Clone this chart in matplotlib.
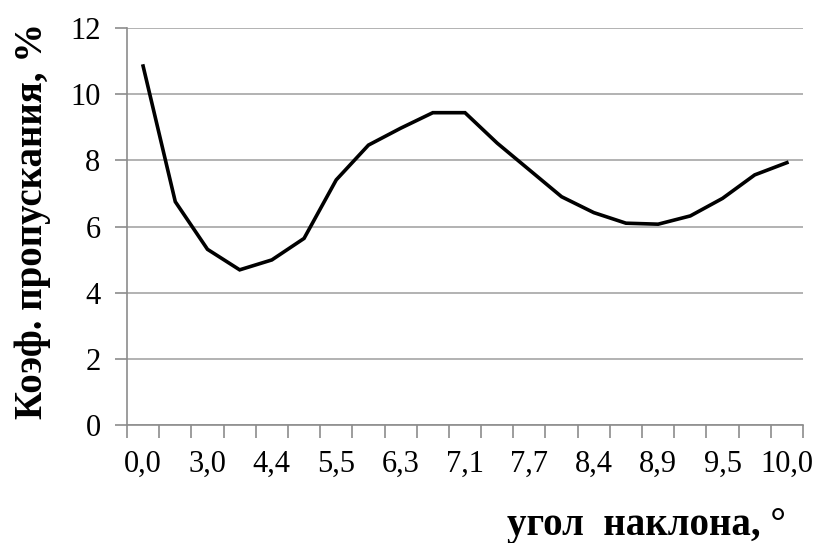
import matplotlib
matplotlib.use("Agg")
import matplotlib.pyplot as plt
import numpy as np

# Transmission coefficient vs. tilt angle (categorical axis, 21 measurements)
angle_labels = ["0,0", "3,0", "4,4", "5,5", "6,3", "7,1", "7,7", "8,4", "8,9", "9,5", "10,0"]
transmission = [10.85, 6.75, 5.31, 4.69, 4.99, 5.64, 7.41, 8.46, 8.97, 9.44,
                9.44, 8.52, 7.71, 6.90, 6.42, 6.10, 6.07, 6.32, 6.85, 7.56, 7.93]
y_ticks = [0, 2, 4, 6, 8, 10, 12]

plt.rcParams["font.family"] = ["Liberation Serif", "DejaVu Serif"]

fig = plt.figure(figsize=(8.18, 5.43), dpi=100)
W, H = 818, 543
left, right, top, bottom = 127, 803, 28, 425
ax = fig.add_axes([left / W, 1 - bottom / H, (right - left) / W, (bottom - top) / H])

x = np.arange(len(transmission))
ax.plot(x, transmission, color="black", linewidth=2.6, solid_joinstyle="miter")

ax.set_xlim(-0.5, len(transmission) - 0.5)
ax.set_ylim(0, 12)

axis_gray = "#8c8c8c"
grid_gray = "#a6a6a6"

ax.set_yticks(y_ticks)
ax.set_yticklabels([str(v) for v in y_ticks])
ax.yaxis.grid(True, color=grid_gray, linewidth=1.2)
ax.set_axisbelow(True)

# category boundaries carry the tick marks, labels sit on every other category
ax.set_xticks(np.arange(-0.5, len(transmission), 1.0))
ax.set_xticklabels([])
ax.set_xticks(np.arange(0, len(transmission), 2), minor=True)
ax.set_xticklabels(angle_labels, minor=True)
ax.tick_params(axis="x", which="minor", length=0, pad=18, labelsize=22)
ax.tick_params(axis="x", which="major", length=9, width=1.2, color=axis_gray, direction="out")
ax.tick_params(axis="y", length=9, width=1.2, color=axis_gray, direction="out", pad=10, labelsize=22)

for side in ["top", "right"]:
    ax.spines[side].set_visible(False)
for side in ["left", "bottom"]:
    ax.spines[side].set_color(axis_gray)
    ax.spines[side].set_linewidth(1.2)

fig.text(33 / W, 1 - 221 / H, "Коэф. пропускания, %", rotation=90, ha="center", va="center",
         fontsize=28, fontweight="bold")
fig.text(786 / W, 1 - 535 / H, "угол  наклона, °", ha="right", va="baseline",
         fontsize=28, fontweight="bold")

fig.savefig("out.png", dpi=100)
